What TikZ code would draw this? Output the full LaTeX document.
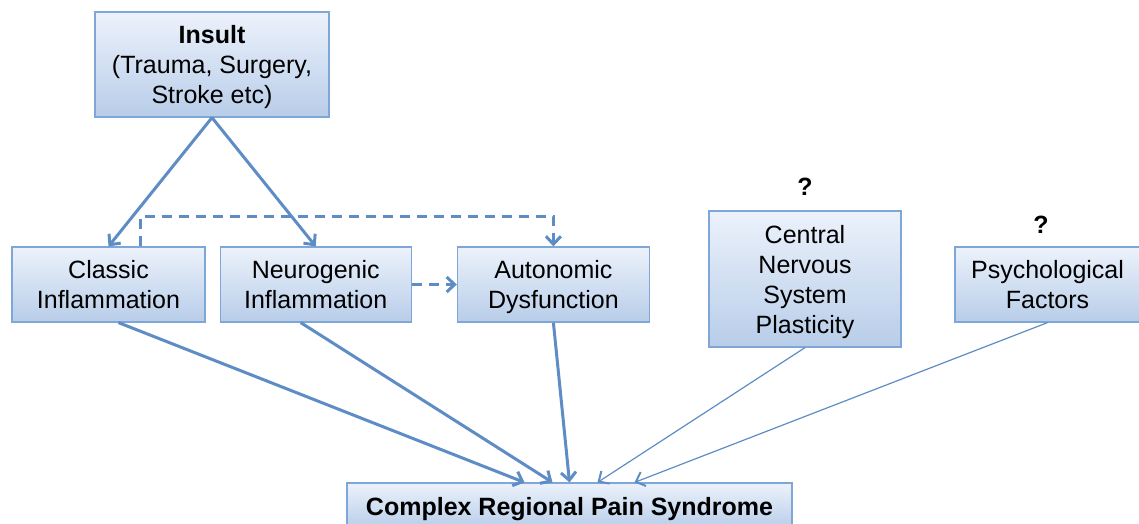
\documentclass[tikz,border=0pt]{standalone}
\usepackage{fontspec}
\setmainfont{Liberation Sans}
\usetikzlibrary{arrows.meta}
\usetikzlibrary{positioning}
\definecolor{boxline}{RGB}{126,166,214}
\definecolor{boxtop}{RGB}{236,242,251}
\definecolor{boxbottom}{RGB}{184,205,233}
\definecolor{linkblue}{RGB}{94,140,196}
\tikzstyle{factor} = [rectangle, draw=boxline, line width=1.2pt, top color=boxtop, bottom color=boxbottom, text centered, align=center, inner sep=0pt, text depth=0pt, font=\fontsize{25}{30}\selectfont]
\tikzstyle{qmark} = [font=\fontsize{25}{30}\selectfont\bfseries, inner sep=0pt]
\tikzstyle{link} = [line width=3pt, draw=linkblue, -{Straight Barb[length=8pt,width=15pt]}]
\tikzstyle{dashlink} = [link, dash pattern=on 10pt off 7pt]
\tikzstyle{thinlink} = [line width=1.2pt, draw=linkblue, -{Straight Barb[length=8pt,width=15pt,line width=2pt]}]

\begin{document}
\begin{tikzpicture}[x=1pt, y=-1pt]

	\useasboundingbox (0,0) rectangle (1139,523);

	% boxes
	\node (insult) [factor, minimum width=234pt, minimum height=105pt] at (212,64.5) {\textbf{Insult}\\(Trauma, Surgery,\\Stroke etc)};
	\node (classic) [factor, minimum width=193pt, minimum height=75pt] at (108.5,284.5) {Classic\\Inflammation};
	\node (neuro) [factor, minimum width=191pt, minimum height=75pt, right=14pt of classic] {Neurogenic\\Inflammation};
	\node (auto) [factor, minimum width=192pt, minimum height=75pt, right=45pt of neuro] {Autonomic\\Dysfunction};
	\node (cns) [factor, minimum width=192pt, minimum height=136pt] at (805,279) {Central\\Nervous\\System\\Plasticity};
	\node (psych) [factor, minimum width=185pt, minimum height=75pt] at (1047.5,284.5) {Psychological\\Factors};
	\node (crps) [factor, minimum width=445pt, minimum height=46pt] at (569.5,506) {\textbf{Complex Regional Pain Syndrome}};

	% question marks
	\node (cnsmark) [qmark] at (805,187) {?};
	\node (psychmark) [qmark] at (1041,225) {?};

	% arrows
	\draw [link] (insult.south) -- (classic.north);
	\draw [link] (insult.south) -- (neuro.north);
	\draw [dashlink] ([xshift=32pt]classic.north) -- ++(0pt,30pt) -| (auto.north);
	\draw [dashlink] (neuro.east) -- (auto.west);

	\draw [link] ([xshift=10pt]classic.south) -- ([xshift=-45pt]crps.north);
	\draw [link] ([xshift=-15pt]neuro.south) -- ([xshift=-17pt]crps.north);
	\draw [link] (auto.south) -- (crps.north);
	\draw [thinlink] (cns.south) -- ([xshift=28pt]crps.north);
	\draw [thinlink] (psych.south) -- ([xshift=65pt]crps.north);

\end{tikzpicture}
\end{document}
